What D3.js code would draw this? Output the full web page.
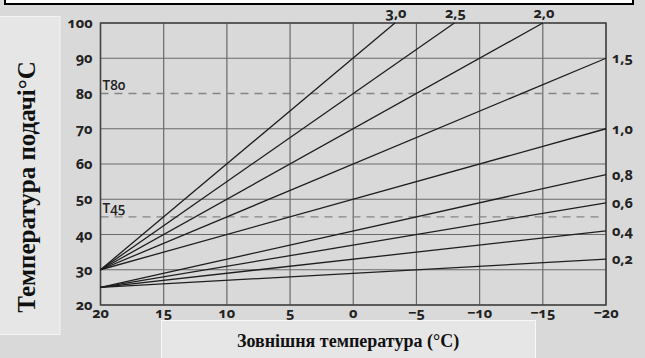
<!DOCTYPE html>
<html>
<head>
<meta charset="utf-8">
<script src="https://cdn.jsdelivr.net/npm/d3@7"></script>
<style>
  html, body { margin: 0; padding: 0; background: #d9d9d9; }
  svg { display: block; }
  .num { font-family: "Open Sans", sans-serif; font-weight: 700; font-size: 14.5px; fill: #222; font-variant-numeric: oldstyle-nums; }
</style>
</head>
<body>
<div id="chart"></div>
<script>
// дані
const xTicks = [20, 15, 10, 5, 0, -5, -10, -15, -20];
const yTicks = [20, 30, 40, 50, 60, 70, 80, 90, 100];
const curveLabels = ["3,0", "2,5", "2,0", "1,5", "1,0", "0,8", "0,6", "0,4", "0,2"];
const curveStartX = [20, 20, 20, 20, 20, 20, 20, 20, 20];
const curveStartY = [30, 30, 30, 30, 30, 25, 25, 25, 25];
const curveEndX = [-3.3, -8, -15, -20, -20, -20, -20, -20, -20];
const curveEndY = [100, 100, 100, 90, 70, 57, 49, 41, 33];
const refLines = [80, 45];
const refLabels = ["T80", "T45"];

const W = 645, H = 358;
const svg = d3.select("#chart").append("svg")
  .attr("width", W).attr("height", H);

svg.append("rect").attr("width", W).attr("height", H).attr("fill", "#d9d9d9");

// верхня рамка
svg.append("rect")
  .attr("x", 5).attr("y", -10).attr("width", 628).attr("height", 14)
  .attr("fill", "#fff").attr("stroke", "#000").attr("stroke-width", 2);

const x = d3.scaleLinear().domain([20, -20]).range([100.5, 606]);
const y = d3.scaleLinear().domain([20, 100]).range([305, 23]);

// нижній блок підпису (під цифрами осі)
svg.append("rect")
  .attr("x", 161.5).attr("y", 320.5).attr("width", 374).attr("height", 45)
  .attr("fill", "#e6e6e6").attr("stroke", "#f8f8f8");

// сітка (на 80 лише пунктир)
svg.append("g").selectAll("line").data(yTicks.filter(d => !refLines.includes(d))).enter().append("line")
  .attr("x1", x(20)).attr("x2", x(-20))
  .attr("y1", d => y(d)).attr("y2", d => y(d))
  .attr("stroke", "#6a6a6a").attr("stroke-width", 1.2);

svg.append("g").selectAll("line").data(xTicks).enter().append("line")
  .attr("y1", y(20)).attr("y2", y(100))
  .attr("x1", d => x(d)).attr("x2", d => x(d))
  .attr("stroke", "#6a6a6a").attr("stroke-width", 1.2);

// T80 / T45
svg.append("g").selectAll("line").data(refLines).enter().append("line")
  .attr("x1", x(20)).attr("x2", x(-19.5))
  .attr("y1", d => y(d)).attr("y2", d => y(d))
  .attr("stroke", "#858585").attr("stroke-width", 1.3)
  .attr("stroke-dasharray", "8,6");

svg.append("g").selectAll("text").data(refLines).enter().append("text")
  .attr("class", "num")
  .style("font-weight", 600).style("font-size", "13.5px")
  .attr("x", x(20) + 2).attr("y", d => y(d) - 4)
  .text((d, i) => refLabels[i]);

// рамка графіка
svg.append("rect")
  .attr("x", x(20)).attr("y", y(100))
  .attr("width", x(-20) - x(20)).attr("height", y(20) - y(100))
  .attr("fill", "none").attr("stroke", "#444").attr("stroke-width", 1.5);

// криві опалення
const line = d3.line().x(d => x(d[0])).y(d => y(d[1]));
curveLabels.forEach((lab, i) => {
  svg.append("path")
    .datum([[curveStartX[i], curveStartY[i]], [curveEndX[i], curveEndY[i]]])
    .attr("d", line)
    .attr("fill", "none").attr("stroke", "#1e1e1e").attr("stroke-width", 1.3);

  const top = curveEndY[i] >= 100;
  svg.append("text")
    .attr("class", "num")
    .attr("x", top ? x(curveEndX[i]) + 1 : x(-20) + 6)
    .attr("y", top ? y(100) - 5 : y(curveEndY[i]))
    .attr("dy", top ? 0 : "0.35em")
    .attr("text-anchor", top ? "middle" : "start")
    .text(lab);
});

// підписи осей
svg.append("g").selectAll("text").data(yTicks).enter().append("text")
  .attr("class", "num")
  .attr("x", x(20) - 8).attr("y", d => y(d)).attr("dy", "0.35em")
  .attr("text-anchor", "end")
  .text(d => d);

svg.append("g").selectAll("text").data(xTicks).enter().append("text")
  .attr("class", "num")
  .attr("x", d => x(d)).attr("y", y(20) + 13)
  .attr("text-anchor", "middle")
  .text(d => d < 0 ? "\u2212" + Math.abs(d) : d);

// бокова підпис
svg.append("rect")
  .attr("x", -2).attr("y", 16.5).attr("width", 62).attr("height", 318)
  .attr("fill", "#e6e6e6").attr("stroke", "#f4f4f4");
svg.append("text")
  .attr("transform", "translate(35,187) rotate(-90)")
  .attr("text-anchor", "middle")
  .style("font-family", "'Liberation Serif', 'Times New Roman', serif")
  .style("font-weight", "bold").style("font-size", "25px").attr("fill", "#111")
  .text("Температура подачі°C");

// нижній підпис
svg.append("text")
  .attr("x", 348).attr("y", 347)
  .attr("text-anchor", "middle")
  .style("font-family", "'Liberation Serif', 'Times New Roman', serif")
  .style("font-weight", "bold").style("font-size", "18px").attr("fill", "#111")
  .text("Зовнішня температура (°C)");
</script>
</body>
</html>
